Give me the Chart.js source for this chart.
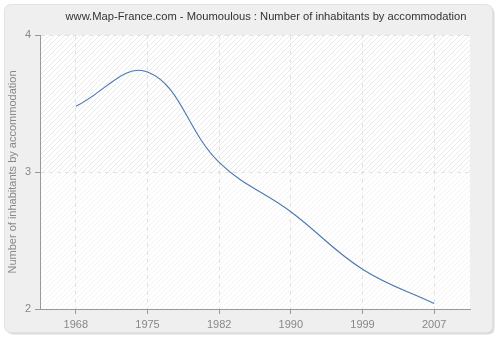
<!DOCTYPE html>
<html>
<head>
<meta charset="utf-8">
<script src="https://cdn.jsdelivr.net/npm/chart.js@4.4.1/dist/chart.umd.min.js"></script>
<style>
  html, body { margin: 0; padding: 0; background: #ffffff; }
  #wrap { width: 500px; height: 340px; }
</style>
</head>
<body>
<div id="wrap"><canvas id="chart" width="500" height="340"></canvas></div>
<script>
const years = ['1968', '1975', '1982', '1990', '1999', '2007'];
const inhabitants = [3.48, 3.73, 3.07, 2.71, 2.29, 2.04];
const yTicks = [2, 3, 4];
const chartTitle = 'www.Map-France.com - Moumoulous : Number of inhabitants by accommodation';

const FONT = 'Liberation Sans, Arial, sans-serif';

// diagonal hatch used for the plot background
function makeHatch(ctx, color) {
    const c = document.createElement('canvas');
    c.width = 5;
    c.height = 5;
    const p = c.getContext('2d');
    p.fillStyle = '#ffffff';
    p.fillRect(0, 0, 5, 5);
    p.strokeStyle = color;
    p.lineWidth = 1;
    p.beginPath();
    p.moveTo(0, 5);
    p.lineTo(5, 0);
    p.moveTo(-1, 1);
    p.lineTo(1, -1);
    p.moveTo(4, 6);
    p.lineTo(6, 4);
    p.stroke();
    return ctx.createPattern(c, 'repeat');
}

function roundRect(ctx, x, y, w, h, r) {
    ctx.beginPath();
    ctx.moveTo(x + r, y);
    ctx.lineTo(x + w - r, y);
    ctx.quadraticCurveTo(x + w, y, x + w, y + r);
    ctx.lineTo(x + w, y + h - r);
    ctx.quadraticCurveTo(x + w, y + h, x + w - r, y + h);
    ctx.lineTo(x + r, y + h);
    ctx.quadraticCurveTo(x, y + h, x, y + h - r);
    ctx.lineTo(x, y + r);
    ctx.quadraticCurveTo(x, y, x + r, y);
    ctx.closePath();
}

const backdrop = {
    id: 'backdrop',
    beforeDraw(chart) {
        const ctx = chart.ctx;
        const area = chart.chartArea;
        const yScale = chart.scales.y;
        ctx.save();
        ctx.fillStyle = '#ffffff';
        ctx.fillRect(0, 0, chart.width, chart.height);
        // card with soft shadow
        roundRect(ctx, 6.5, 6.5, 488, 328, 7);
        ctx.fillStyle = '#dcdcdc';
        ctx.fill();
        roundRect(ctx, 4.5, 4.5, 488, 328, 7);
        ctx.fillStyle = '#efefef';
        ctx.fill();
        ctx.strokeStyle = '#e2e2e2';
        ctx.lineWidth = 1;
        ctx.stroke();
        // plot area: stronger hatch above the middle line
        const mid = yScale.getPixelForValue(3);
        ctx.fillStyle = makeHatch(ctx, '#eaeaea');
        ctx.fillRect(area.left, area.top, area.right - area.left, mid - area.top);
        ctx.fillStyle = makeHatch(ctx, '#f3f3f3');
        ctx.fillRect(area.left, mid, area.right - area.left, area.bottom - mid);
        ctx.restore();
    },
    afterDraw(chart) {
        const ctx = chart.ctx;
        ctx.save();
        ctx.font = '11.2px ' + FONT;
        ctx.fillStyle = '#333333';
        ctx.textAlign = 'center';
        ctx.textBaseline = 'middle';
        ctx.fillText(chartTitle, 266, 17);
        ctx.restore();
    }
};

new Chart(document.getElementById('chart'), {
    type: 'line',
    data: {
        labels: years,
        datasets: [{
            data: inhabitants,
            borderColor: '#4a78ad',
            borderWidth: 1.1,
            pointRadius: 0,
            tension: 0.4,
            fill: false
        }]
    },
    plugins: [backdrop],
    options: {
        responsive: false,
        animation: false,
        layout: { padding: { left: 0, right: 30, top: 35, bottom: 0 } },
        plugins: {
            legend: { display: false },
            tooltip: { enabled: false },
            title: { display: false }
        },
        scales: {
            x: {
                offset: true,
                afterFit(scale) { scale.height = 31; },
                grid: {
                    color: '#e2e2e2',
                    tickColor: '#999999',
                    tickLength: 5,
                    drawOnChartArea: true
                },
                border: { color: '#999999', width: 1, dash: [4, 4] },
                ticks: {
                    color: '#888888',
                    font: { family: FONT, size: 11 },
                    padding: 4,
                    maxRotation: 0
                }
            },
            y: {
                min: 2,
                max: 4,
                afterFit(scale) { scale.width = 40; },
                afterBuildTicks(scale) {
                    scale.ticks = yTicks.map(v => ({ value: v }));
                },
                grid: {
                    color: '#e2e2e2',
                    tickColor: '#999999',
                    tickLength: 5
                },
                border: { color: '#999999', width: 1, dash: [4, 4] },
                ticks: {
                    color: '#888888',
                    font: { family: FONT, size: 11 },
                    padding: 4
                },
                title: {
                    display: true,
                    text: 'Number of inhabitants by accommodation',
                    color: '#888888',
                    font: { family: FONT, size: 11 },
                    padding: { top: 6, bottom: 0 }
                }
            }
        }
    }
});
</script>
</body>
</html>
